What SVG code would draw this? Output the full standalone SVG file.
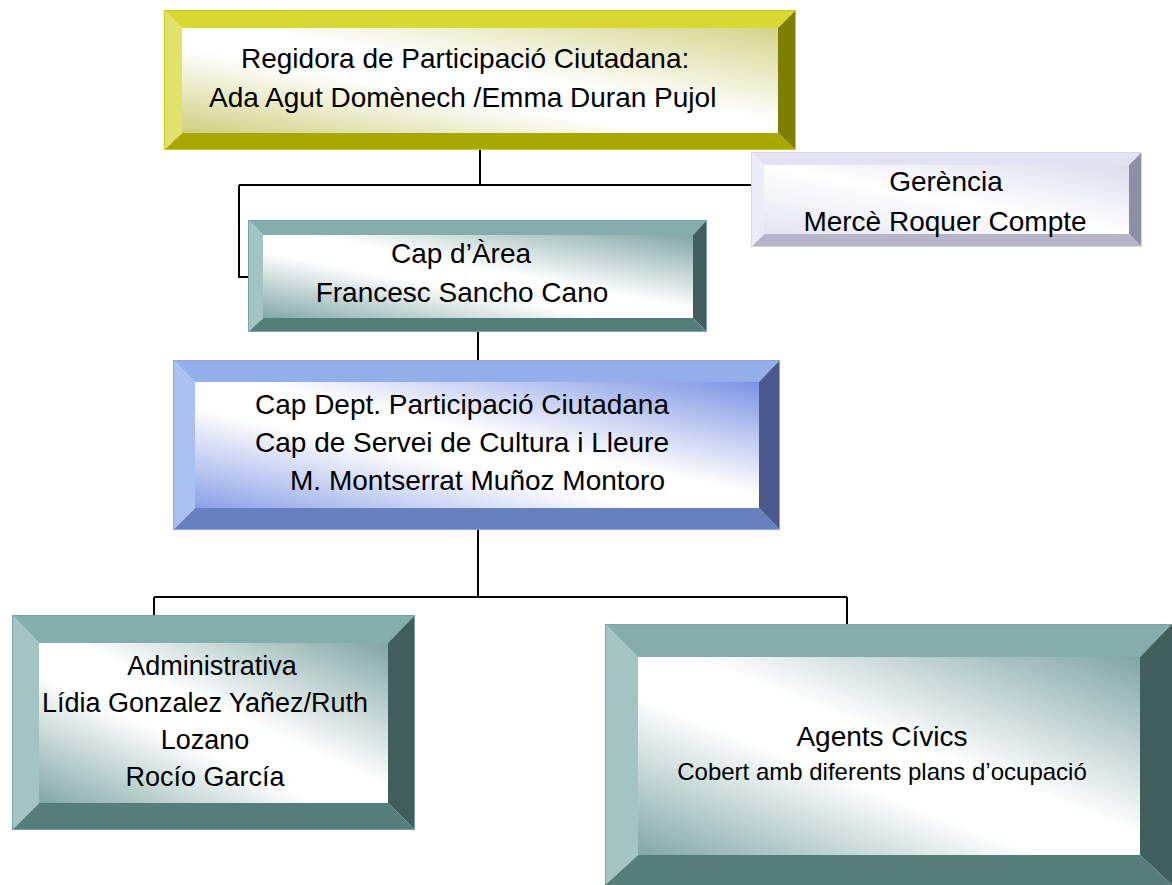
<svg xmlns="http://www.w3.org/2000/svg" width="1172" height="885" viewBox="0 0 1172 885">
<defs>
<linearGradient id="gY" x1="1" y1="0" x2="0" y2="1"><stop offset="0" stop-color="#d4d48a"/><stop offset="0.45" stop-color="#ffffff"/><stop offset="0.6" stop-color="#ffffff"/><stop offset="1" stop-color="#cfcf80"/></linearGradient>
<linearGradient id="gT" x1="1" y1="0" x2="0" y2="1"><stop offset="0" stop-color="#7fa6a4"/><stop offset="0.45" stop-color="#ffffff"/><stop offset="0.6" stop-color="#ffffff"/><stop offset="1" stop-color="#80a8a6"/></linearGradient>
<linearGradient id="gB" x1="1" y1="0" x2="0" y2="1"><stop offset="0" stop-color="#7b93e2"/><stop offset="0.45" stop-color="#ffffff"/><stop offset="0.6" stop-color="#ffffff"/><stop offset="1" stop-color="#8aa0e6"/></linearGradient>
<linearGradient id="gL" x1="1" y1="0" x2="0" y2="1"><stop offset="0" stop-color="#dcdcee"/><stop offset="0.5" stop-color="#ffffff"/><stop offset="1" stop-color="#e4e4f2"/></linearGradient>
</defs>
<style>
text{font-family:"Liberation Sans",Arial,sans-serif;font-size:28px;fill:#000}
.m{text-anchor:middle}
.conn{fill:none;stroke:#000;stroke-width:2}
.yT{fill:#d8d832}.yL{fill:#e2e26a}.yR{fill:#7e7e00}.yB{fill:#a8a800}
.tT{fill:#84adab}.tL{fill:#a2c5c3}.tR{fill:#405f5c}.tB{fill:#557d7a}
.bT{fill:#94aeea}.bL{fill:#abc0f2}.bR{fill:#4a5a8c}.bB{fill:#6780bf}
.lT{fill:#e2e2f2}.lL{fill:#ececf8}.lR{fill:#8e8ea6}.lB{fill:#b6b6ca}
</style>
<g id="connectors">
<path class="conn" d="M480,150 V185"/>
<path class="conn" d="M239,185 H752"/>
<path class="conn" d="M239,185 V277 H248"/>
<path class="conn" d="M478,332 V360"/>
<path class="conn" d="M478,530 V597"/>
<path class="conn" d="M154,597 H847"/>
<path class="conn" d="M154,597 V615"/>
<path class="conn" d="M847,597 V624"/>
</g>
<g id="regidora">
<polygon class="yT" points="164,10 796,10 778,28 182,28"/>
<polygon class="yR" points="796,10 796,150 778,133 778,28"/>
<polygon class="yB" points="164,150 796,150 778,133 182,133"/>
<polygon class="yL" points="164,10 182,28 182,133 164,150"/>
<rect x="182" y="28" width="596" height="105" fill="url(#gY)"/>
<rect x="164.5" y="10.5" width="631" height="139" fill="none" stroke="#c8c820" stroke-width="1"/>
<text x="241" y="68">Regidora de Participació Ciutadana:</text>
<text x="209" y="107">Ada Agut Domènech /Emma Duran Pujol</text>
</g>
<g id="gerencia">
<polygon class="lT" points="751,152 1142,152 1129,165 764,165"/>
<polygon class="lR" points="1142,152 1142,247 1129,234 1129,165"/>
<polygon class="lB" points="751,247 1142,247 1129,234 764,234"/>
<polygon class="lL" points="751,152 764,165 764,234 751,247"/>
<rect x="764" y="165" width="365" height="69" fill="url(#gL)"/>
<rect x="751.5" y="152.5" width="390" height="94" fill="none" stroke="#d6d6ea" stroke-width="1"/>
<text class="m" x="946" y="191">Gerència</text>
<text class="m" x="945" y="231">Mercè Roquer Compte</text>
</g>
<g id="cap-area">
<polygon class="tT" points="248,220 707,220 693,235 263,235"/>
<polygon class="tR" points="707,220 707,332 693,318 693,235"/>
<polygon class="tB" points="248,332 707,332 693,318 263,318"/>
<polygon class="tL" points="248,220 263,235 263,318 248,332"/>
<rect x="263" y="235" width="430" height="83" fill="url(#gT)"/>
<rect x="248.5" y="220.5" width="458" height="111" fill="none" stroke="#7aa3a1" stroke-width="1"/>
<text class="m" x="461" y="263">Cap d’Àrea</text>
<text class="m" x="462" y="302">Francesc Sancho Cano</text>
</g>
<g id="cap-dept">
<polygon class="bT" points="173,360 780,360 759,382 195,382"/>
<polygon class="bR" points="780,360 780,530 759,508 759,382"/>
<polygon class="bB" points="173,530 780,530 759,508 195,508"/>
<polygon class="bL" points="173,360 195,382 195,508 173,530"/>
<rect x="195" y="382" width="564" height="126" fill="url(#gB)"/>
<rect x="173.5" y="360.5" width="606" height="169" fill="none" stroke="#8aa4ea" stroke-width="1"/>
<text x="255" y="414">Cap Dept. Participació Ciutadana</text>
<text x="255" y="452">Cap de Servei de Cultura i Lleure</text>
<text x="290" y="490">M. Montserrat Muñoz Montoro</text>
</g>
<g id="administrativa">
<polygon class="tT" points="12,615 415,615 388,643 39,643"/>
<polygon class="tR" points="415,615 415,830 388,803 388,643"/>
<polygon class="tB" points="12,830 415,830 388,803 39,803"/>
<polygon class="tL" points="12,615 39,643 39,803 12,830"/>
<rect x="39" y="643" width="349" height="160" fill="url(#gT)"/>
<rect x="12.5" y="615.5" width="402" height="214" fill="none" stroke="#7aa3a1" stroke-width="1"/>
<text class="m" x="212" y="675" style="font-size:27px">Administrativa</text>
<text class="m" x="205" y="712" style="font-size:27px">Lídia Gonzalez Yañez/Ruth</text>
<text class="m" x="205" y="749" style="font-size:27px">Lozano</text>
<text class="m" x="205" y="786" style="font-size:27px">Rocío García</text>
</g>
<g id="agents-civics">
<polygon class="tT" points="605,624 1172,624 1140,657 638,657"/>
<polygon class="tR" points="1172,624 1172,885 1140,855 1140,657"/>
<polygon class="tB" points="605,885 1172,885 1140,855 638,855"/>
<polygon class="tL" points="605,624 638,657 638,855 605,885"/>
<rect x="638" y="657" width="502" height="198" fill="url(#gT)"/>
<rect x="605.5" y="624.5" width="567" height="261" fill="none" stroke="#7aa3a1" stroke-width="1"/>
<text class="m" x="882" y="746">Agents Cívics</text>
<text class="m" x="882" y="780" style="font-size:24px">Cobert amb diferents plans d’ocupació</text>
</g>
</svg>
